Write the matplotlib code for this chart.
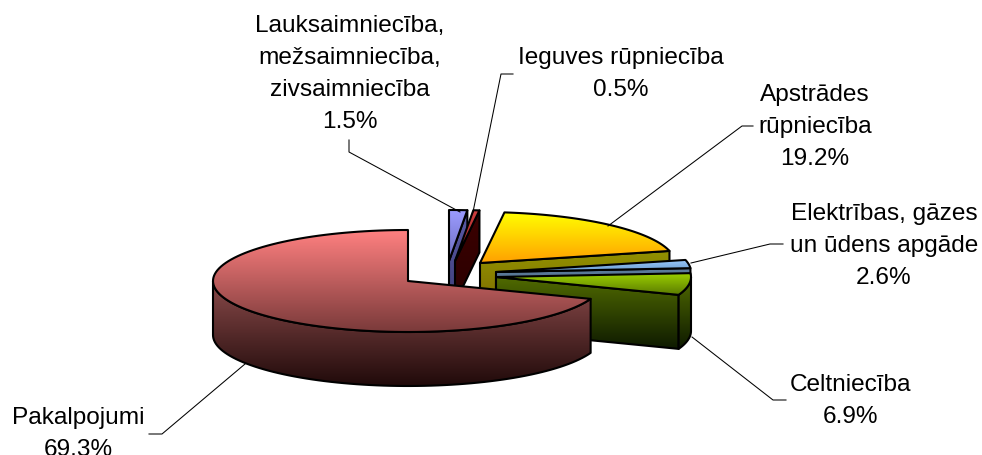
import numpy as np
import matplotlib
matplotlib.use("Agg")
import matplotlib.pyplot as plt
from matplotlib.colors import LinearSegmentedColormap
from matplotlib.patches import Polygon

plt.rcParams["font.family"] = ["Liberation Sans", "DejaVu Sans"]

# Data
names = ["Lauksaimniecība,\nmežsaimniecība,\nzivsaimniecība", "Ieguves rūpniecība",
         "Apstrādes\nrūpniecība", "Elektrības, gāzes\nun ūdens apgāde", "Celtniecība", "Pakalpojumi"]
shares = [1.5, 0.5, 19.2, 2.6, 6.9, 69.3]

# Layout in pixels
W, H = 982, 456
RX, RY = 195, 51
apex = [(449, 262), (455, 262), (480, 264), (496, 273), (496, 278), (408, 282)]
depth = [42, 42, 54, 54, 54, 54]
label_pos = [(350, 74), (621, 74), (815, 127), (884, 246), (851, 401), (78, 434)]
leaders = [[(349, 141), (349, 153), (460, 213)],
           [(513, 75), (501, 75), (473, 213)],
           [(753, 127), (742, 127), (608, 227)],
           [(783, 245), (770, 245), (691, 264)],
           [(786, 401), (773, 401), (692, 338)],
           [(149, 435), (162, 435), (245, 365)]]

# top face, cut face and rim colours (start and end of each vertical gradient)
top_col = [("#9C9CFF", "#6C6CC0"), ("#D04040", "#902020"), ("#FFFF00", "#FFA000"),
           ("#9CCCFF", "#6A9ACC"), ("#9CD000", "#5A7A00"), ("#FF8080", "#7A3A3A")]
cut_col = [("#5A5AA8", "#40407A"), ("#3C0000", "#2A0000"), ("#929200", "#7A6400"),
           ("#5C7C9C", "#40566C"), ("#506A00", "#0E1A00"), ("#8A4A4A", "#200A0A")]
rim_col = [("#5A5AA8", "#40407A"), ("#3C0000", "#2A0000"), ("#929200", "#7A6400"),
           ("#5C7C9C", "#40566C"), ("#506A00", "#0E1A00"), ("#8A4A4A", "#200A0A")]

fig = plt.figure(figsize=(W / 100, H / 100), dpi=100)
ax = fig.add_axes([0, 0, 1, 1])


def rim(c, angle):
    a = np.radians(angle)
    return np.column_stack([c[0] + RX * np.sin(a), c[1] - RY * np.cos(a)])


def face(verts, colors, z):
    # polygon with a vertical gradient, black outline
    verts = np.asarray(verts)
    cmap = LinearSegmentedColormap.from_list("g", colors)
    x0, x1 = verts[:, 0].min(), verts[:, 0].max()
    y0, y1 = verts[:, 1].min(), verts[:, 1].max()
    grad = np.linspace(0, 1, 128).reshape(-1, 1)
    im = ax.imshow(grad, cmap=cmap, extent=(x0, x1, y1, y0), aspect="auto", zorder=z,
                   interpolation="bilinear")
    patch = Polygon(verts, closed=True, facecolor="none", edgecolor="black", lw=1.5,
                    joinstyle="round", zorder=z + 0.5)
    ax.add_patch(patch)
    im.set_clip_path(patch)


# slice angles run clockwise from 12 o'clock
edges = np.cumsum([0] + shares) / sum(shares) * 360
z = 1
for i in range(len(shares)):
    a0, a1 = edges[i], edges[i + 1]
    c = apex[i]
    d = np.array([0, depth[i]])
    # cut face at the end of the slice, only seen for the right half
    if a1 < 180:
        r = rim(c, np.array([a1]))[0]
        face([c, r, r + d, np.array(c) + d], cut_col[i], z)
        z += 1
    # outer wall, front half only
    lo, hi = max(a0, 90), min(a1, 270)
    if hi > lo:
        arc = rim(c, np.linspace(lo, hi, 80))
        face(np.vstack([arc, (arc + d)[::-1]]), rim_col[i], z)
        z += 1
    arc = rim(c, np.linspace(a0, a1, 120))
    face(np.vstack([[c], arc]), top_col[i], z)
    z += 1

for name, share, pos, line in zip(names, shares, label_pos, leaders):
    ax.text(pos[0], pos[1], f"{name}\n{share}%", ha="center", va="center", ma="center",
            fontsize=17.6, linespacing=1.6, color="black", zorder=z + 2)
    xs, ys = zip(*line)
    ax.plot(xs, ys, color="black", lw=0.75, zorder=z + 1)

ax.set_xlim(0, W)
ax.set_ylim(H, 0)
ax.axis("off")
fig.savefig("out.png", dpi=100, facecolor="white")
